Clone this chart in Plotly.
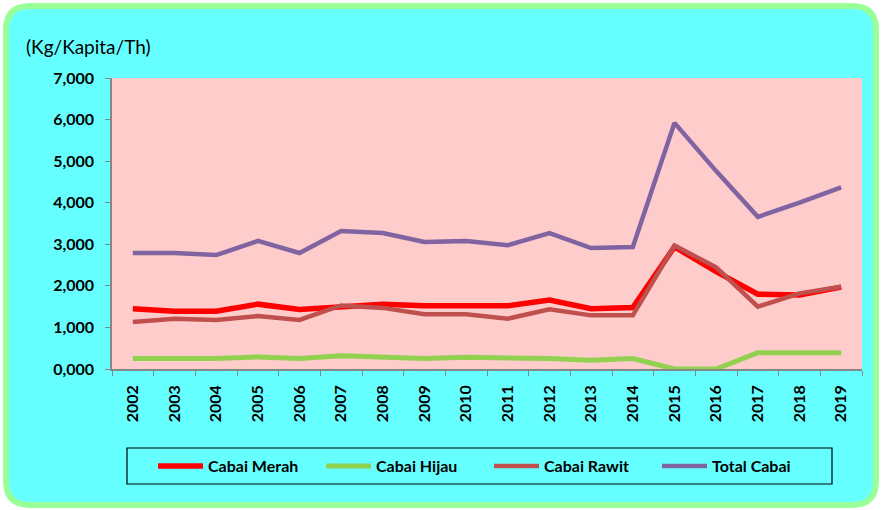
import plotly.graph_objects as go

years = [str(y) for y in range(2002, 2020)]
cabai_merah = [1450, 1390, 1390, 1560, 1430, 1500, 1560, 1520, 1520, 1520, 1660, 1450, 1480, 2940, 2340, 1800, 1780, 1970]
cabai_hijau = [250, 250, 250, 290, 250, 320, 290, 250, 280, 280, 250, 210, 250, 0, 0, 390, 390, 390]
cabai_rawit = [1130, 1210, 1180, 1275, 1180, 1530, 1470, 1315, 1315, 1210, 1435, 1290, 1290, 2970, 2445, 1500, 1820, 1980]
total_cabai = [2790, 2790, 2740, 3080, 2790, 3320, 3270, 3055, 3080, 2980, 3270, 2910, 2935, 5920, 4760, 3660, 4000, 4370]
y_ticks = [0, 1000, 2000, 3000, 4000, 5000, 6000, 7000]
y_tick_text = ["0,000", "1,000", "2,000", "3,000", "4,000", "5,000", "6,000", "7,000"]

W, H = 881, 510
L, R, T, B = 112, 862, 78, 369

def px(x):
    return (x - L) / (R - L)

def py(y):
    return (B - y) / (B - T)

def rounded_path(x0, y0, x1, y1, r):
    pts = [
        f"M {px(x0 + r)} {py(y0)}",
        f"L {px(x1 - r)} {py(y0)}",
        f"Q {px(x1)} {py(y0)} {px(x1)} {py(y0 + r)}",
        f"L {px(x1)} {py(y1 - r)}",
        f"Q {px(x1)} {py(y1)} {px(x1 - r)} {py(y1)}",
        f"L {px(x0 + r)} {py(y1)}",
        f"Q {px(x0)} {py(y1)} {px(x0)} {py(y1 - r)}",
        f"L {px(x0)} {py(y0 + r)}",
        f"Q {px(x0)} {py(y0)} {px(x0 + r)} {py(y0)}",
        "Z",
    ]
    return " ".join(pts)

FONT = "Lato"

fig = go.Figure()
series = [
    ("Cabai Merah", cabai_merah, "#FF0000", 5.5),
    ("Cabai Hijau", cabai_hijau, "#92D050", 5),
    ("Cabai Rawit", cabai_rawit, "#C0504D", 4.5),
    ("Total Cabai", total_cabai, "#8064A2", 4.5),
]
for name, vals, col, w in series:
    fig.add_trace(go.Scatter(x=years, y=vals, name=name, mode="lines",
                             line=dict(color=col, width=w), cliponaxis=False))

fig.update_layout(
    width=W, height=H,
    margin=dict(l=L, r=W - R, t=T, b=H - B, autoexpand=False),
    paper_bgcolor="white",
    plot_bgcolor="rgba(0,0,0,0)",
    font=dict(family=FONT, color="black"),
    shapes=[
        dict(type="path", xref="paper", yref="paper", layer="below",
             path=rounded_path(6, 6, 876, 505, 24),
             fillcolor="#66FFFF", line=dict(color="#99FF99", width=6)),
        dict(type="rect", xref="paper", yref="paper", layer="below",
             x0=0, x1=1, y0=0, y1=1, fillcolor="#FFCCCC", line=dict(width=0)),
        dict(type="rect", xref="paper", yref="paper", layer="below",
             x0=px(127), x1=px(832), y0=py(448), y1=py(484),
             fillcolor="rgba(0,0,0,0)", line=dict(color="black", width=1.2)),
    ],
    xaxis=dict(
        type="category", showgrid=False, showline=True, linecolor="#888888", linewidth=1.5,
        ticks="outside", ticklen=5, tickcolor="#888888", tickson="boundaries",
        tickangle=-90, tickfont=dict(family=FONT, size=16, color="black", weight="bold"),
        range=[-0.5, 17.5], automargin=False, ticklabelstandoff=8,
    ),
    yaxis=dict(
        range=[0, 7000], tickvals=y_ticks, ticktext=y_tick_text,
        showgrid=False, showline=True, linecolor="#888888", linewidth=1.5,
        ticks="outside", ticklen=5, tickcolor="#888888", zeroline=False,
        tickfont=dict(family=FONT, size=16, color="black", weight="bold"),
        automargin=False, ticklabelstandoff=8,
    ),
    legend=dict(
        orientation="h", x=px(153), xanchor="left", y=py(466), yanchor="middle",
        borderwidth=0, bgcolor="rgba(0,0,0,0)",
        font=dict(family=FONT, size=16, color="black", weight="bold"),
        entrywidth=108, entrywidthmode="pixels", itemwidth=45,
    ),
    annotations=[
        dict(text="(Kg/Kapita/Th)", xref="paper", yref="paper", x=px(24), y=py(47),
             xanchor="left", yanchor="middle", showarrow=False,
             font=dict(family=FONT, size=19, color="black")),
    ],
)

fig.write_html("out.html", config={"displayModeBar": False},
               post_script="document.body.style.margin='0px';document.body.style.padding='0px';document.body.style.overflow='hidden';")
